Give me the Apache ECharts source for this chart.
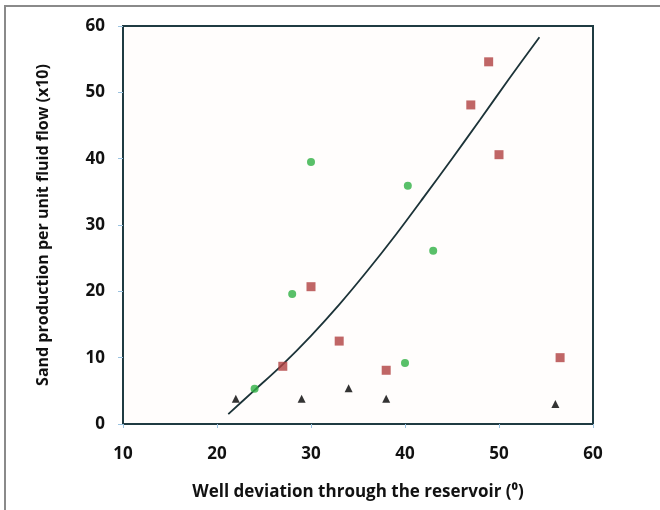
<!DOCTYPE html>
<html>
<head>
<meta charset="utf-8">
<script src="https://cdn.jsdelivr.net/npm/echarts@6/dist/echarts.min.js"></script>
<style>
  html, body { margin: 0; padding: 0; background: #fff; }
  #chart { width: 660px; height: 510px; }
</style>
</head>
<body>
<div id="chart"></div>
<script>
// values
var greenX = [24, 28, 30, 40, 40.3, 43];
var greenY = [5.3, 19.6, 39.5, 9.2, 35.9, 26.1];

var redX = [27, 30, 33, 38, 47, 48.9, 50, 56.5];
var redY = [8.7, 20.7, 12.5, 8.1, 48.1, 54.6, 40.6, 10];

var blackX = [22, 29, 34, 38, 56];
var blackY = [3.8, 3.8, 5.4, 3.8, 3.0];

// trend curve, points
var trendX = [21.2, 24, 27, 30, 33, 36, 39, 42, 45, 48, 51, 54.3];
var trendY = [1.5, 5.1, 9.0, 13.3, 18.0, 23.1, 28.5, 34.2, 40.0, 45.9, 51.9, 58.3];

var xTicks = [10, 20, 30, 40, 50, 60];
var yTicks = [0, 10, 20, 30, 40, 50, 60];

function pairs(xs, ys) {
    var out = [];
    for (var i = 0; i < xs.length; i++) {
        out.push([xs[i], ys[i]]);
    }
    return out;
}

var axisColor = "#1f3b42";
var labelFont = "Open Sans";

var chart = echarts.init(document.getElementById("chart"));
chart.setOption({
    animation: false,
    backgroundColor: "#fff",
    graphic: [{
        type: "rect",
        shape: { x: 5, y: 6, width: 700, height: 600 },
        style: { fill: null, stroke: "#8a8a8a", lineWidth: 2 },
        silent: true
    }],
    grid: {
        left: 123, right: 67, top: 26, bottom: 86,
        show: true, borderColor: axisColor, borderWidth: 2,
        backgroundColor: "#fffdfc"
    },
    xAxis: {
        type: "value",
        min: xTicks[0], max: xTicks[xTicks.length - 1], interval: 10,
        name: "Well deviation through the reservoir (\u2070)",
        nameLocation: "middle", nameGap: 60,
        nameTextStyle: { fontFamily: labelFont, fontWeight: "bold", fontSize: 17, color: "#111" },
        axisLine: { lineStyle: { color: axisColor, width: 2 } },
        axisTick: { show: true, length: 4, lineStyle: { color: "#9cc3e0" } },
        axisLabel: { margin: 22, fontFamily: labelFont, fontWeight: "bold", fontSize: 17, color: "#111" },
        splitLine: { show: false }
    },
    yAxis: {
        type: "value",
        min: yTicks[0], max: yTicks[yTicks.length - 1], interval: 10,
        name: "Sand production per unit fluid flow (x10)",
        nameLocation: "middle", nameGap: 72, nameRotate: 90,
        nameTextStyle: { fontFamily: labelFont, fontWeight: "bold", fontSize: 16, color: "#111" },
        axisLine: { show: true, lineStyle: { color: axisColor, width: 2 } },
        axisTick: { show: true, length: 5, lineStyle: { color: "#9cc3e0" } },
        axisLabel: { margin: 18, fontFamily: labelFont, fontWeight: "bold", fontSize: 17, color: "#111" },
        splitLine: { show: false }
    },
    series: [
        {
            name: "trend",
            type: "line",
            data: pairs(trendX, trendY),
            smooth: 0.3,
            showSymbol: false,
            lineStyle: { color: "#1c3338", width: 1.8 },
            z: 1
        },
        {
            name: "green",
            type: "scatter",
            data: pairs(greenX, greenY),
            symbol: "circle",
            symbolSize: 8,
            itemStyle: { color: "#2fb043" },
            z: 3
        },
        {
            name: "red",
            type: "scatter",
            data: pairs(redX, redY),
            symbol: "rect",
            symbolSize: 9,
            itemStyle: { color: "#b04040" },
            z: 3
        },
        {
            name: "black",
            type: "scatter",
            data: pairs(blackX, blackY),
            symbol: "triangle",
            symbolSize: 8,
            itemStyle: { color: "#000" },
            z: 3
        }
    ]
});
</script>
</body>
</html>
